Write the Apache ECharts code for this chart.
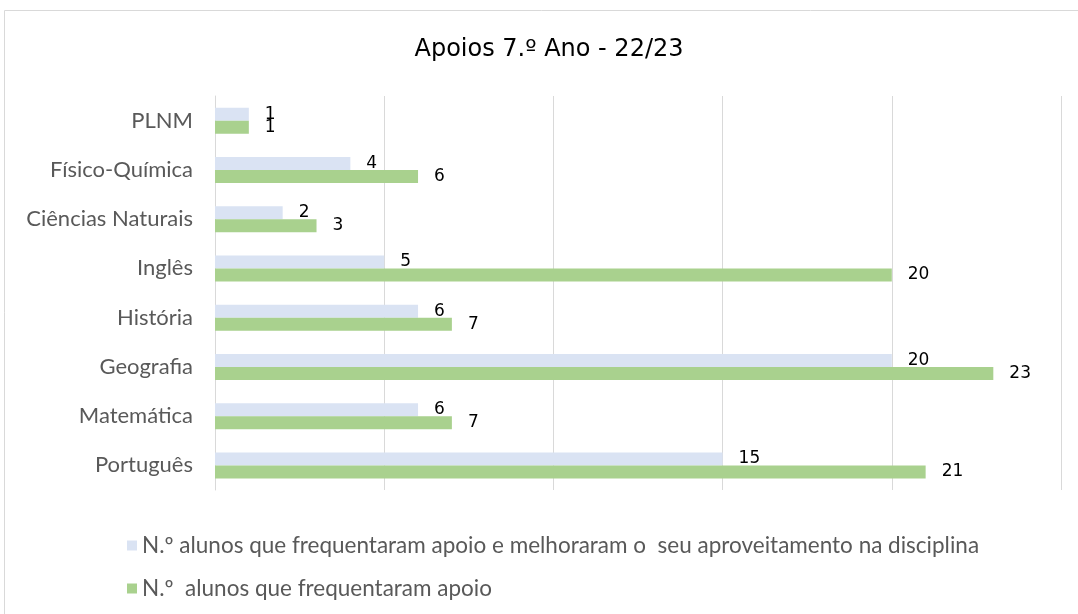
<!DOCTYPE html>
<html style="height: 100%">
  <head>
    <meta charset="utf-8" />
  </head>
  <body style="height: 100%; margin: 0; background: #fff">
    <div id="container" style="height: 100%"></div>
    <script
      type="text/javascript"
      src="https://cdn.jsdelivr.net/npm/echarts@6/dist/echarts.min.js"
    ></script>

    <script type="text/javascript">
      var dom = document.getElementById("container");
      var myChart = echarts.init(dom);

      // categories listed bottom to top
      let disciplinas = ["Português", "Matemática", "Geografia", "História", "Inglês", "Ciências Naturais", "Físico-Química", "PLNM"];
      let melhoraram = [15, 6, 20, 6, 5, 2, 4, 1];
      let frequentaram = [21, 7, 23, 7, 20, 3, 6, 1];
      let nomeMelhoraram = "N.º alunos que frequentaram apoio e melhoraram o  seu aproveitamento na disciplina";
      let nomeFrequentaram = "N.º  alunos que frequentaram apoio";

      let labelStyle = {
        show: true,
        position: "right",
        distance: 16,
        color: "#000",
        fontSize: 17,
        fontFamily: "DejaVu Sans",
      };

      let option = {
        title: {
          text: "Apoios 7.º Ano - 22/23",
          left: 544,
          top: 33,
          textAlign: "center",
          textStyle: {
            fontFamily: "DejaVu Sans",
            fontWeight: "normal",
            fontSize: 24,
            color: "#000",
          },
        },
        graphic: [
          {
            type: "rect",
            shape: { x: 4.5, y: 10.5, width: 1200, height: 800 },
            style: { fill: "none", stroke: "#d9d9d9", lineWidth: 1 },
            silent: true,
          },
        ],
        legend: {
          orient: "vertical",
          left: 122,
          top: 529,
          itemGap: 20,
          itemWidth: 10,
          itemHeight: 10,
          icon: "rect",
          data: [nomeMelhoraram, nomeFrequentaram],
          textStyle: {
            fontFamily: "Lato",
            fontSize: 22.5,
            color: "#595959",
          },
        },
        grid: {
          left: 215,
          right: 17,
          top: 96,
          bottom: 124,
          containLabel: false,
        },
        xAxis: {
          type: "value",
          min: 0,
          max: 25,
          interval: 5,
          axisLabel: { show: false },
          axisLine: { show: false },
          axisTick: { show: false },
          splitLine: { lineStyle: { color: "#d9d9d9", width: 1 } },
        },
        yAxis: {
          type: "category",
          data: disciplinas,
          axisTick: { show: false },
          axisLine: { show: true, lineStyle: { color: "#d9d9d9" } },
          axisLabel: {
            fontFamily: "Lato",
            fontSize: 22,
            color: "#595959",
            margin: 22,
          },
        },
        series: [
          {
            name: nomeMelhoraram,
            type: "bar",
            data: melhoraram,
            barWidth: 13,
            barGap: "0%",
            itemStyle: { color: "#dae3f3" },
            label: labelStyle,
          },
          {
            name: nomeFrequentaram,
            type: "bar",
            data: frequentaram,
            barWidth: 13,
            barGap: "0%",
            itemStyle: { color: "#a9d18e" },
            label: labelStyle,
          },
        ],
      };

      myChart.setOption(option);
    </script>
  </body>
</html>
